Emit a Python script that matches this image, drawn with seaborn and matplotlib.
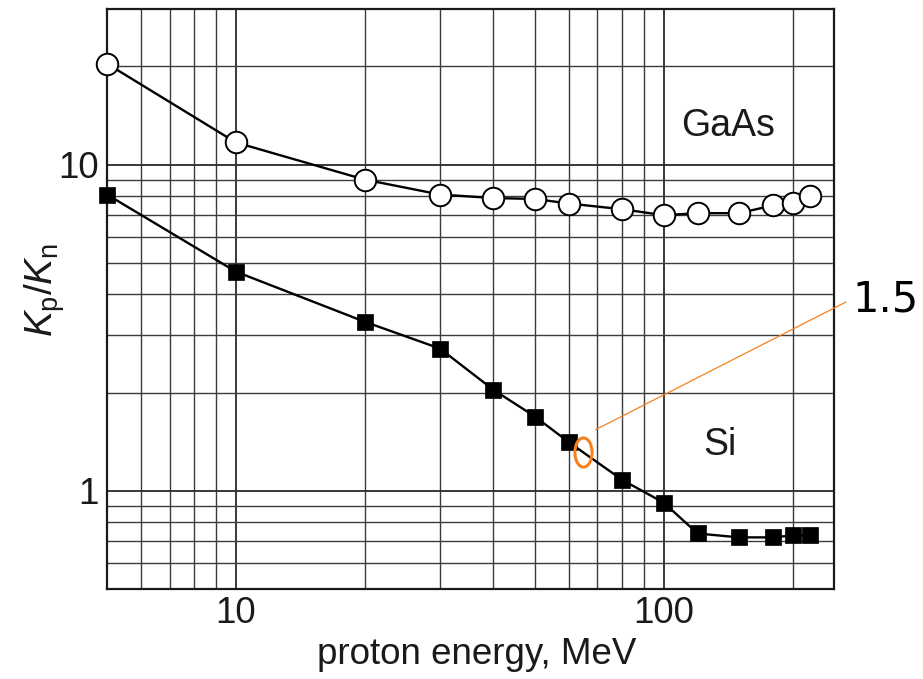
import numpy as np
import pandas as pd
import matplotlib
matplotlib.use("Agg")
import matplotlib.pyplot as plt
from matplotlib.path import Path
from matplotlib.transforms import Affine2D
from matplotlib.ticker import FixedLocator, NullFormatter, FixedFormatter
import seaborn as sns

# Proton energies (MeV) at which the damage ratio was evaluated
energy = [5, 10, 20, 30, 40, 50, 60, 80, 100, 120, 150, 180, 200, 220]

# Ratio of proton to neutron damage constants, Kp/Kn
gaas_ratio = [20.4, 11.7, 9.0, 8.1, 7.9, 7.85, 7.6, 7.3, 7.0, 7.1, 7.1, 7.5, 7.65, 8.0]
si_ratio = [8.1, 4.7, 3.3, 2.73, 2.04, 1.69, 1.41, 1.08, 0.92, 0.74, 0.72, 0.72, 0.73, 0.73]

# Highlighted point on the Si curve and its call-out
highlight_energy = 64.7
highlight_ratio = 1.32
leader_energy = 69.3
leader_ratio = 1.54
callout_text = "1.5"

x_ticks = [10, 100]
x_tick_labels = ["10", "100"]
y_ticks = [1, 10]
y_tick_labels = ["1", "10"]

sns.set_theme(style="white")
plt.rcParams["font.family"] = ["Liberation Sans", "DejaVu Sans"]
plt.rcParams["mathtext.fontset"] = "custom"
plt.rcParams["mathtext.rm"] = "Liberation Sans"
plt.rcParams["mathtext.it"] = "Liberation Sans:italic"

df = pd.concat([
    pd.DataFrame({"energy": energy, "ratio": gaas_ratio, "material": "GaAs"}),
    pd.DataFrame({"energy": energy, "ratio": si_ratio, "material": "Si"}),
])

fig = plt.figure(figsize=(9.23, 6.79), dpi=100)
ax = fig.add_axes([0.1159, 0.1325, 0.7877, 0.8542])
ax.set_xscale("log")
ax.set_yscale("log")

sns.lineplot(data=df[df.material == "Si"], x="energy", y="ratio", ax=ax,
             color="black", lw=1.7, marker="s", markersize=11,
             markerfacecolor="black", markeredgecolor="black",
             markeredgewidth=0.5, clip_on=False, zorder=4)
sns.lineplot(data=df[df.material == "GaAs"], x="energy", y="ratio", ax=ax,
             color="black", lw=1.7, marker="o", markersize=15.5,
             markerfacecolor="white", markeredgecolor="black",
             markeredgewidth=1.4, clip_on=False, zorder=4)

ax.set_xlim(5, 250)
ax.set_ylim(0.5, 30)

# Log grid: every decade subdivision gets a line
ax.xaxis.set_major_locator(FixedLocator(x_ticks))
ax.xaxis.set_major_formatter(FixedFormatter(x_tick_labels))
ax.xaxis.set_minor_locator(FixedLocator([6, 7, 8, 9, 20, 30, 40, 50, 60, 70, 80, 90, 200]))
ax.xaxis.set_minor_formatter(NullFormatter())
ax.yaxis.set_major_locator(FixedLocator(y_ticks))
ax.yaxis.set_major_formatter(FixedFormatter(y_tick_labels))
ax.yaxis.set_minor_locator(FixedLocator([0.6, 0.7, 0.8, 0.9, 2, 3, 4, 5, 6, 7, 8, 9, 20]))
ax.yaxis.set_minor_formatter(NullFormatter())

ax.grid(which="major", color="#2a2a2a", lw=1.3)
ax.grid(which="minor", color="#3c3c3c", lw=1.0)
ax.set_axisbelow(True)
ax.tick_params(which="both", length=0, labelsize=26.5, colors="#1a1a1a")
ax.tick_params(axis="x", pad=5)
ax.tick_params(axis="y", pad=6)

for s in ax.spines.values():
    s.set_color("#1a1a1a")
    s.set_linewidth(1.6)
    s.set_visible(True)

ax.set_xlabel("proton energy, MeV", fontsize=26.5, color="#1a1a1a")
ax.set_ylabel(r"$K_{\mathrm{p}}/K_{\mathrm{n}}$", fontsize=28, color="#1a1a1a")
ax.xaxis.set_label_coords(0.508, -0.083)
ax.yaxis.set_label_coords(-0.055, 0.515)

ax.text(141, 12.27, "GaAs", fontsize=27, ha="center", va="baseline", color="#1a1a1a")
ax.text(135, 1.29, "Si", fontsize=27, ha="center", va="baseline", color="#1a1a1a")

# Orange call-out: ellipse around the curve and a thin leader to the value
orange = "#f58220"
ellipse = Path(Affine2D().scale(0.59, 1.0).transform(Path.unit_circle().vertices),
               Path.unit_circle().codes)
ax.plot([highlight_energy], [highlight_ratio], marker=ellipse, markersize=21,
        markerfacecolor="none", markeredgecolor=orange, markeredgewidth=2.2,
        linestyle="none", zorder=6, clip_on=False)
ax.annotate("", xy=(leader_energy, leader_ratio), xycoords="data",
            xytext=(846, 679 - 302), textcoords="figure pixels",
            arrowprops=dict(arrowstyle="-", color=orange, lw=0.9,
                            shrinkA=0, shrinkB=0), zorder=6)
fig.text(852 / 923, 1 - 312 / 679, callout_text, fontsize=30,
         family=["DejaVu Sans"], ha="left", va="baseline", color="black")

fig.savefig("out.png", dpi=100)
